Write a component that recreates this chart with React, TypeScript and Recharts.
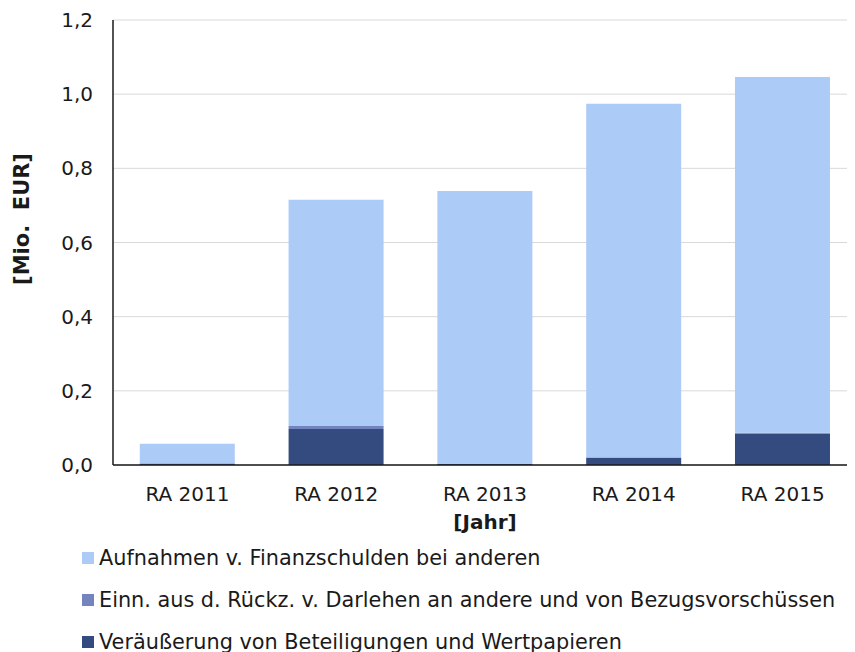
import { BarChart, Bar, XAxis, YAxis, CartesianGrid } from 'recharts';

const years = ['RA 2011', 'RA 2012', 'RA 2013', 'RA 2014', 'RA 2015'];
const beteiligungen = [0.004, 0.097, 0.003, 0.02, 0.084];
const darlehen = [0, 0.008, 0, 0, 0.003];
const finanzschulden = [0.053, 0.61, 0.736, 0.954, 0.959];
const yTicks = [0, 0.2, 0.4, 0.6, 0.8, 1.0, 1.2];

const SERIES = [
  { key: 'aufnahmen', name: 'Aufnahmen v. Finanzschulden bei anderen', color: '#ADCBF7' },
  { key: 'einn', name: 'Einn. aus d. Rückz. v. Darlehen an andere und von Bezugsvorschüssen', color: '#7283BD' },
  { key: 'veraeusserung', name: 'Veräußerung von Beteiligungen und Wertpapieren', color: '#344B80' },
];

const data = years.map((year, i) => ({
  year,
  veraeusserung: beteiligungen[i],
  einn: darlehen[i],
  aufnahmen: finanzschulden[i],
}));

const FONT = '"DejaVu Sans", Verdana, sans-serif';
const TEXT = '#1a1a1a';
const fmt = (v: number) => v.toFixed(1).replace('.', ',');

// rotated y-axis title, sits a bit above the plot centre like the original
function YTitle() {
  return (
    <text
      x={14}
      y={211}
      transform="rotate(-90 14 211)"
      textAnchor="middle"
      dominantBaseline="central"
      fill={TEXT}
      fontSize={21}
      fontWeight="bold"
      fontFamily={FONT}
    >
      {'[Mio.\u00A0\u00A0EUR]'}
    </text>
  );
}

export default function App() {
  return (
    <div style={{ position: 'relative', width: 847, height: 644, overflow: 'hidden', fontFamily: FONT }}>
      <BarChart
        width={852}
        height={530}
        data={data}
        margin={{ top: 12, right: 3, left: 0, bottom: 0 }}
        barCategoryGap="18%"
      >
        <CartesianGrid vertical={false} stroke="#D9D9D9" strokeWidth={1} />
        <XAxis
          dataKey="year"
          height={73}
          tickLine={false}
          axisLine={{ stroke: TEXT, strokeWidth: 1.5 }}
          tick={{ fill: TEXT, fontSize: 20, fontFamily: FONT }}
          tickMargin={16}
          label={{
            value: '[Jahr]',
            position: 'insideBottom',
            offset: 9,
            fill: TEXT,
            fontSize: 20,
            fontWeight: 'bold',
            fontFamily: FONT,
          }}
        />
        <YAxis
          width={105}
          domain={[0, 1.2]}
          ticks={yTicks}
          tickFormatter={fmt}
          tickLine={false}
          axisLine={{ stroke: TEXT, strokeWidth: 1.5 }}
          tick={{ fill: TEXT, fontSize: 20, fontFamily: FONT }}
          tickMargin={14}
          label={{ content: () => <YTitle /> }}
        />
        <Bar dataKey="veraeusserung" stackId="a" fill="#344B80" isAnimationActive={false} />
        <Bar dataKey="einn" stackId="a" fill="#7283BD" isAnimationActive={false} />
        <Bar dataKey="aufnahmen" stackId="a" fill="#ADCBF7" isAnimationActive={false} />
      </BarChart>
      <div style={{ position: 'absolute', left: 74, top: 529 }}>
        {SERIES.map((s) => (
          <div
            key={s.key}
            style={{ display: 'flex', alignItems: 'center', height: 42, fontSize: 20.8, color: TEXT, whiteSpace: 'nowrap' }}
          >
            <span style={{ width: 12, height: 12, background: s.color, marginRight: 5, display: 'inline-block' }} />
            {s.name}
          </div>
        ))}
      </div>
    </div>
  );
}
